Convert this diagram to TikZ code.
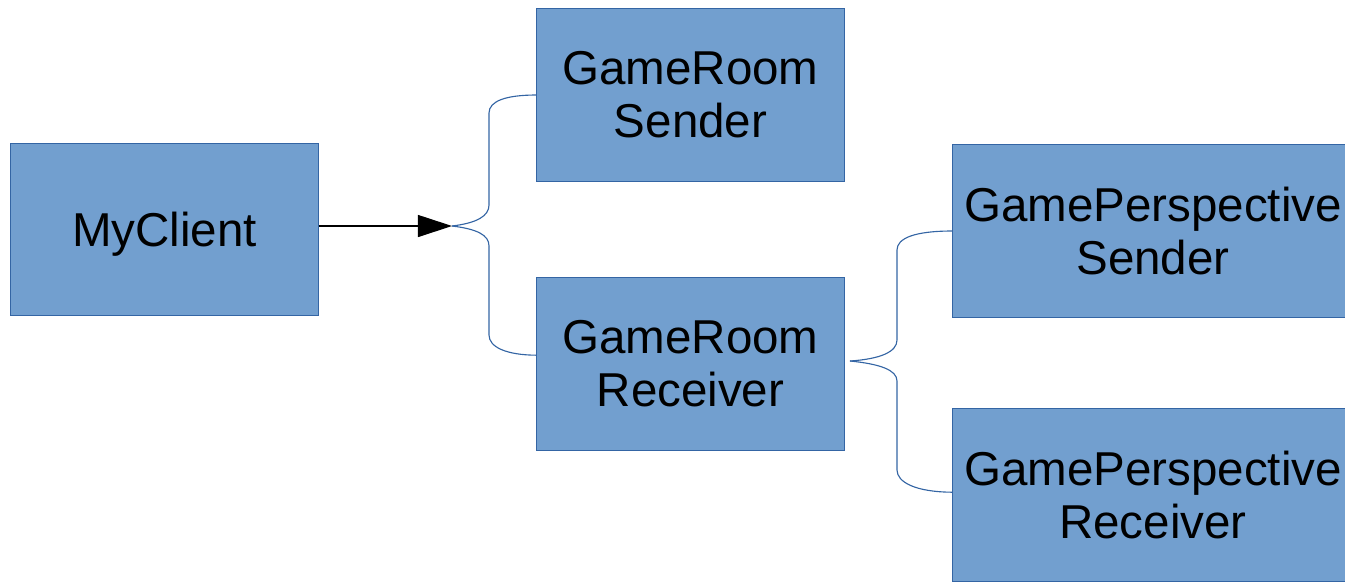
\documentclass[tikz,border=0pt]{standalone}
\usepackage{fontspec}
\setmainfont{Liberation Sans}
\usetikzlibrary{arrows.meta}

\definecolor{boxfill}{HTML}{729FCF}
\definecolor{boxline}{HTML}{3465A4}

\begin{document}
\begin{tikzpicture}[x=0.025cm, y=-0.025cm]
        \tikzstyle{every node}=[font=\fontsize{33.8}{37.7}\selectfont, align=center]
        \tikzstyle{block}=[rectangle, draw=boxline, fill=boxfill, line width=0.7pt, minimum width=7.675cm, minimum height=4.3cm, inner sep=0pt]
        \tikzstyle{wide block}=[block, minimum width=10cm]
        \tikzstyle{brace}=[draw=boxline, line width=0.8pt]
        \useasboundingbox (0,0) rectangle (1345,581);
        \clip (0,0) rectangle (1345,581);
        % boxes
        \node [block, text depth=0pt] (client) at (164.5,229.5) {MyClient};
        \node [block] (roomSend) at (690.5,95) {GameRoom\\Sender};
        \node [block] (roomRecv) at (690.5,364) {GameRoom\\Receiver};
        \node [wide block] (perspSend) at (1153,231) {GamePerspective\\Sender};
        \node [wide block] (perspRecv) at (1153,495) {GamePerspective\\Receiver};
        \coordinate (fork1) at (452,226);
        \coordinate (fork2) at (850,361);
        % arrow and braces
        \draw [-{Triangle[length=0.85cm, width=0.55cm]}, line width=0.8pt] (client.east |- fork1) -- (fork1);
        \draw [brace] (fork1) .. controls (477,223) and (489,216) .. (489,205) -- (489,113) .. controls (489,101) and (506,95) .. (roomSend.west);
        \draw [brace] (fork1) .. controls (477,229) and (489,235) .. (489,246) -- (489,335) .. controls (489,347) and (506,355) .. ([yshift=0.22cm]roomRecv.west);
        \draw [brace] (fork2) .. controls (880,359) and (897,352) .. (897,340) -- (897,250) .. controls (897,238) and (915,231) .. (perspSend.west);
        \draw [brace] (fork2) .. controls (880,364) and (897,370) .. (897,381) -- (897,470) .. controls (897,482) and (915,492) .. ([yshift=0.07cm]perspRecv.west);
\end{tikzpicture}
\end{document}
